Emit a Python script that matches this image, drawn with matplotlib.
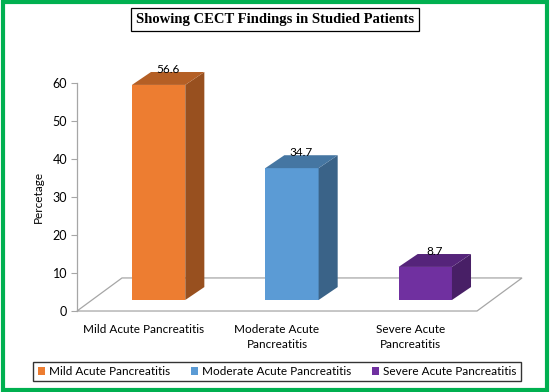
import numpy as np
import matplotlib.pyplot as plt
from matplotlib.patches import Polygon, Rectangle, Patch
from matplotlib.colors import to_rgb

categories = ["Mild Acute Pancreatitis", "Moderate Acute Pancreatitis", "Severe Acute Pancreatitis"]
tick_labels = ["Mild Acute Pancreatitis", "Moderate Acute\nPancreatitis", "Severe Acute\nPancreatitis"]
values = [56.6, 34.7, 8.7]
colors = ["#ED7D31", "#5B9BD5", "#7030A0"]

plt.rcParams['font.family'] = ['Lato', 'DejaVu Sans']

fig = plt.figure(figsize=(5.5, 3.92), dpi=100)
ax = fig.add_axes([0.14, 0.2066, 0.7273, 0.5816])
ax.set_xlim(-0.5, 2.5)
ax.set_ylim(0, 60)

# 3d look: depth of the floor and of the bars, in data units
floor_dx, floor_dy = 0.3375, 8.7
front_dx, front_dy = 0.112, 2.9
bar_dx, bar_dy = 0.143, 3.4
width = 0.4

def shade(c, k):
    return tuple(np.array(to_rgb(c)) * k)

# floor
floor = Polygon([(-0.5, 0), (2.5, 0), (2.5 + floor_dx, floor_dy), (-0.5 + floor_dx, floor_dy)],
                closed=True, facecolor='white', edgecolor='#A6A6A6', lw=0.9, clip_on=False, zorder=1)
ax.add_patch(floor)

for i, (v, c) in enumerate(zip(values, colors)):
    x0 = i - width / 2 + front_dx
    x1 = x0 + width
    y0 = front_dy
    y1 = front_dy + v
    ax.add_patch(Polygon([(x0, y0), (x1, y0), (x1, y1), (x0, y1)], facecolor=c,
                         edgecolor='none', clip_on=False, zorder=3))
    ax.add_patch(Polygon([(x1, y0), (x1 + bar_dx, y0 + bar_dy), (x1 + bar_dx, y1 + bar_dy), (x1, y1)],
                         facecolor=shade(c, 0.64), edgecolor='none', clip_on=False, zorder=3))
    ax.add_patch(Polygon([(x0, y1), (x1, y1), (x1 + bar_dx, y1 + bar_dy), (x0 + bar_dx, y1 + bar_dy)],
                         facecolor=shade(c, 0.76), edgecolor='none', clip_on=False, zorder=3))
    ax.text(i + front_dx + bar_dx / 2, y1 + bar_dy - 0.7, f"{v}", ha='center', va='bottom',
            fontsize=8.5, color='black', zorder=4)

for s in ['top', 'right', 'bottom']:
    ax.spines[s].set_visible(False)
ax.spines['left'].set_color('#A6A6A6')
ax.spines['left'].set_linewidth(0.9)
ax.set_yticks(range(0, 61, 10))
ax.tick_params(axis='y', length=4, color='#A6A6A6', labelsize=9, pad=3)
ax.set_xticks(range(len(tick_labels)))
ax.set_xticklabels(tick_labels, fontsize=8.5, linespacing=1.5)
ax.tick_params(axis='x', length=0, pad=9)
ax.set_ylabel("Percetage", fontsize=8.5, labelpad=6)
ax.set_facecolor('none')

fig.text(0.5, 0.951, "Showing CECT Findings in Studied Patients", ha='center', va='center',
         fontsize=10.5, fontweight='bold', family='Liberation Serif',
         bbox=dict(boxstyle='square,pad=0.35', facecolor='white', edgecolor='black', lw=0.9))

handles = [Patch(facecolor=c, edgecolor='none') for c in colors]
fig.legend(handles, categories, loc='center', bbox_to_anchor=(0.504, 0.052), ncol=3,
           fontsize=8.5, frameon=True, fancybox=False, edgecolor='black', handlelength=0.6,
           handleheight=0.6, handletextpad=0.4, columnspacing=1.7, borderpad=0.35)

fig.add_artist(Rectangle((0.006, 0.006), 0.988, 0.988, transform=fig.transFigure,
                         fill=False, edgecolor='#00B050', lw=3))

fig.savefig("out.png", dpi=100)
